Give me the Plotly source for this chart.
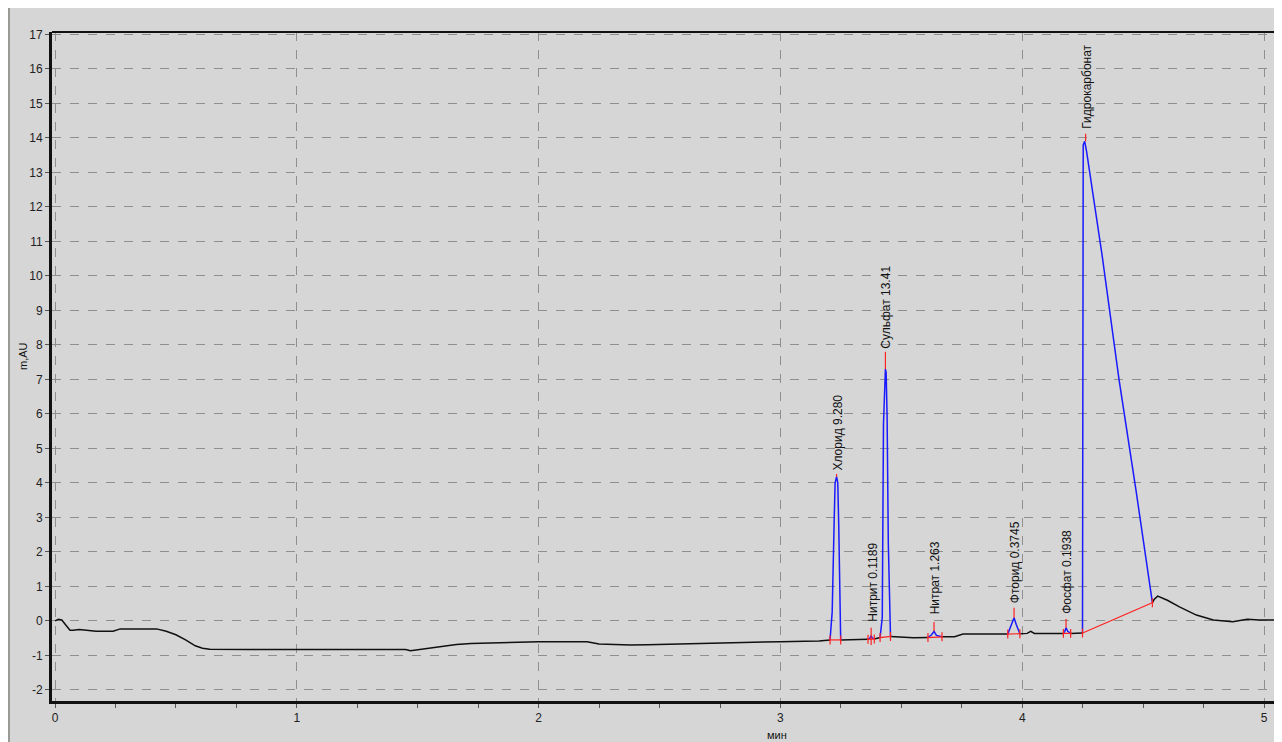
import plotly.graph_objects as go

# ---------------- data ----------------
# baseline (black) segments, None separates the gaps filled by peaks
base_t = [0.0, 0.014, 0.028, 0.048, 0.062, 0.075, 0.10, 0.17, 0.24, 0.27, 0.42, 0.46, 0.50, 0.54, 0.58, 0.61, 0.64,
          0.8, 1.0, 1.2, 1.4, 1.45, 1.47, 1.49, 1.52, 1.57, 1.61, 1.66, 1.72, 1.8, 1.92, 2.0, 2.1, 2.2, 2.25, 2.3,
          2.38, 2.45, 2.55, 2.62, 2.67, 2.75, 2.9, 3.0, 3.1, 3.16, 3.205,
          None, 3.249, 3.3, 3.362,
          None, 3.388, 3.4, 3.412,
          None, 3.455, 3.5, 3.55, 3.61,
          None, 3.668, 3.72, 3.755, 3.8, 3.87, 3.94,
          None, 3.99, 4.02, 4.035, 4.05, 4.1, 4.17,
          None, 4.2, 4.249,
          None, 4.538, 4.545, 4.56, 4.6, 4.65, 4.72, 4.79, 4.87, 4.93, 4.98, 5.04, 5.074]
base_v = [0.0, 0.05, 0.03, -0.15, -0.27, -0.27, -0.25, -0.3, -0.3, -0.23, -0.23, -0.3, -0.4, -0.55, -0.72, -0.79, -0.82,
          -0.83, -0.83, -0.83, -0.83, -0.83, -0.86, -0.84, -0.82, -0.77, -0.72, -0.68, -0.65, -0.63, -0.61, -0.6, -0.6, -0.6, -0.67, -0.68,
          -0.7, -0.69, -0.67, -0.67, -0.65, -0.63, -0.6, -0.6, -0.59, -0.58, -0.55,
          None, -0.55, -0.54, -0.53,
          None, -0.52, -0.5, -0.48,
          None, -0.45, -0.47, -0.49, -0.48,
          None, -0.46, -0.46, -0.38, -0.38, -0.37, -0.38,
          None, -0.37, -0.36, -0.3, -0.36, -0.36, -0.36,
          None, -0.36, -0.35,
          None, 0.53, 0.62, 0.72, 0.6, 0.41, 0.17, 0.03, -0.02, 0.05, 0.03, 0.03, 0.04]

# peaks (blue)
peak_names = ["Хлорид 9.280", "Нитрит 0.1189", "Сульфат 13.41", "Нитрат 1.263",
              "Фторид 0.3745", "Фосфат 0.1938", "Гидрокарбонат"]
peak_t = [
    [3.205, 3.214, 3.222, 3.226, 3.232, 3.237, 3.241, 3.245, 3.249],
    [3.362, 3.37, 3.375, 3.38, 3.388],
    [3.412, 3.421, 3.426, 3.431, 3.434, 3.437, 3.441, 3.446, 3.452, 3.455],
    [3.61, 3.625, 3.635, 3.645, 3.668],
    [3.94, 3.955, 3.966, 3.975, 3.99],
    [4.17, 4.176, 4.181, 4.188, 4.2],
    [4.249, 4.249, 4.252, 4.258, 4.266, 4.33, 4.40, 4.47, 4.538],
]
peak_v = [
    [-0.55, 0.27, 2.88, 4.0, 4.18, 4.0, 2.78, 0.13, -0.55],
    [-0.53, -0.5, -0.42, -0.5, -0.52],
    [-0.48, 0.1, 5.7, 7.25, 7.3, 7.2, 5.9, 2.26, -0.26, -0.45],
    [-0.48, -0.4, -0.3, -0.42, -0.46],
    [-0.38, -0.1, 0.09, -0.1, -0.37],
    [-0.36, -0.3, -0.2, -0.3, -0.36],
    [-0.35, 3.07, 13.8, 13.9, 13.6, 10.6, 7.0, 3.8, 0.53],
]
# integration marks (red): start, end, apex and apex top
start_t = [3.205, 3.362, 3.412, 3.61, 3.94, 4.17, 4.249]
start_v = [-0.55, -0.53, -0.48, -0.48, -0.38, -0.36, -0.35]
end_t = [3.249, 3.388, 3.455, 3.668, 3.99, 4.2, 4.538]
end_v = [-0.55, -0.52, -0.45, -0.46, -0.37, -0.36, 0.53]
apex_t = [3.232, 3.375, 3.434, 3.635, 3.966, 4.181, 4.262]
apex_v = [4.18, -0.7, 7.3, -0.3, 0.09, -0.2, 13.9]
apex_top = [4.26, -0.2, 7.8, -0.03, 0.38, 0.06, 14.12]
label_v = [4.26, -0.12, 7.8, 0.09, 0.43, 0.12, 14.17]

x_ticks = [0, 1, 2, 3, 4, 5]
y_ticks = list(range(-2, 18))

# ---------------- figure ----------------
fig = go.Figure()

fig.add_trace(go.Scatter(x=base_t, y=base_v, mode="lines", line=dict(color="#101010", width=1.5),
                         connectgaps=False, hoverinfo="skip", showlegend=False))

for t, v in zip(peak_t, peak_v):
    fig.add_trace(go.Scatter(x=t, y=v, mode="lines", line=dict(color="#1a1aff", width=1.5),
                             hoverinfo="skip", showlegend=False))

tick = 0.13
rx, ry = [], []
for i in range(len(start_t)):
    ext = 0.004
    rx += [start_t[i] - ext, end_t[i] + ext, None]
    slope = (end_v[i] - start_v[i]) / (end_t[i] - start_t[i])
    ry += [start_v[i] - slope * ext, end_v[i] + slope * ext, None]
    rx += [start_t[i], start_t[i], None, end_t[i], end_t[i], None]
    ry += [start_v[i] - tick, start_v[i] + tick, None, end_v[i] - tick, end_v[i] + tick, None]
    rx += [apex_t[i], apex_t[i], None]
    ry += [apex_v[i], apex_top[i], None]
fig.add_trace(go.Scatter(x=rx, y=ry, mode="lines", line=dict(color="#ff2020", width=1.2),
                         hoverinfo="skip", showlegend=False))

for name, t, v in zip(peak_names, apex_t, label_v):
    fig.add_annotation(x=t, y=v, text=name, textangle=-90, showarrow=False,
                       xanchor="center", yanchor="bottom", yshift=1, xshift=1,
                       font=dict(family="Liberation Sans, Arial", size=12, color="#111"))

# the page adds an 8 px body margin; figure pixel = page pixel - 8
OFF = 8
W, H = 1282 - OFF, 742 - OFF
L, R, T = 52 - OFF, 0, 32 - OFF
B = H - (701 - OFF)
pw, ph = W - L - R, H - T - B
def px_x(p):
    return (p - OFF - L) / pw
def px_y(p):
    return (H - B - (p - OFF)) / ph

# axis titles
fig.add_annotation(xref="paper", yref="paper", x=px_x(15), y=px_y(356), text="m,AU", textangle=-90,
                   showarrow=False, font=dict(family="Liberation Sans, Arial", size=11, color="#111"))
fig.add_annotation(xref="paper", yref="paper", x=px_x(777), y=px_y(728), yanchor="top", text="мин",
                   showarrow=False, borderpad=0, font=dict(family="Liberation Sans, Arial", size=11, color="#111"))

# panel decorations: left border line and top axis line
fig.add_shape(type="line", xref="paper", yref="paper", x0=px_x(9), x1=px_x(9), y0=px_y(750), y1=px_y(8),
              line=dict(color="#9a9a94", width=2))
fig.add_shape(type="line", xref="paper", yref="paper", x0=0, x1=1, y0=1, y1=1,
              line=dict(color="#111", width=2))

fig.update_layout(
    width=W, height=H,
    margin=dict(l=L, r=R, t=T, b=B, autoexpand=False),
    paper_bgcolor="#d6d6d6", plot_bgcolor="#d6d6d6",
    font=dict(family="Liberation Sans, Arial", size=12, color="#222"),
    showlegend=False,
)
fig.update_xaxes(range=[-0.0124, 5.074], tickvals=x_ticks, ticktext=[str(v) for v in x_ticks],
                 showgrid=True, gridcolor="#8f8f8f", griddash="dash", gridwidth=1,
                 zeroline=False, showline=True, linecolor="#111", linewidth=3,
                 ticks="outside", ticklen=4, tickcolor="#555",
                 minor=dict(dtick=0.25, tick0=0, ticks="outside", ticklen=4, tickcolor="#555", showgrid=False),
                 tickfont=dict(size=12, color="#222"))
fig.update_yaxes(range=[-2.32, 17.07], tickvals=y_ticks, ticktext=[str(v) for v in y_ticks],
                 showgrid=True, gridcolor="#8f8f8f", griddash="dash", gridwidth=1,
                 zeroline=False, showline=True, linecolor="#111", linewidth=3,
                 ticks="outside", ticklen=4, tickcolor="#555",
                 tickfont=dict(size=12, color="#222"))

fig.write_html("out.html")
